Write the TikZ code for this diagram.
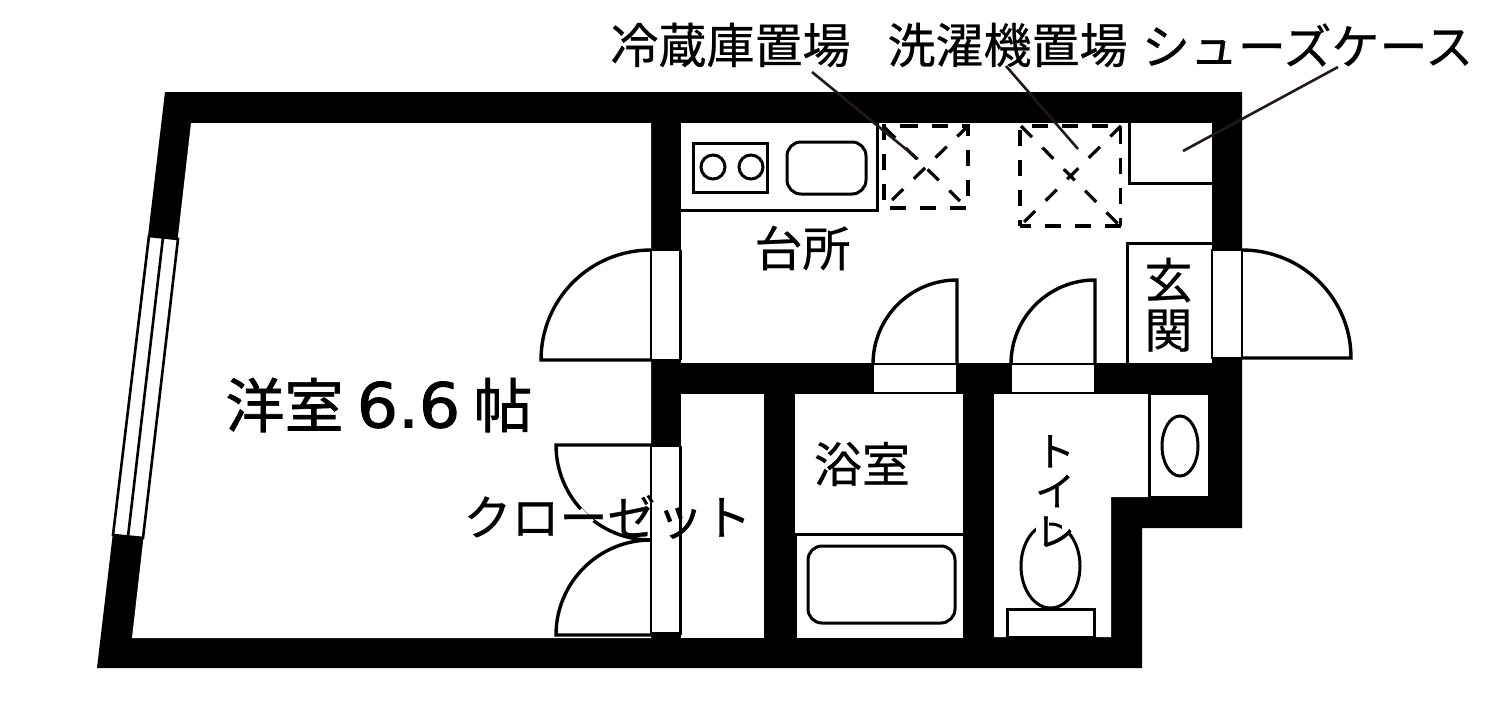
\documentclass[tikz,border=0pt]{standalone}
\usepackage{fontspec}
\newfontfamily\jp[FakeBold=0.5]{Noto Sans CJK JP}
\newfontfamily\jpb[FakeBold=1.2]{Noto Sans CJK JP}
\newfontfamily\lat[FakeBold=1.5,FakeStretch=1.05]{DejaVu Sans}
\definecolor{leadercol}{HTML}{231815}
\tikzset{
  fix/.style={draw=black,line width=1.5pt,fill=white},
  thin/.style={draw=black,line width=1pt,fill=white},
  thinline/.style={draw=black,line width=1.5pt},
  swing/.style={draw=black,line width=1.7pt,line join=miter},
  dashbox/.style={draw=black,line width=1.6pt,dash pattern=on 7.8pt off 7.2pt},
  dashdiag/.style={draw=black,line width=1.6pt,dash pattern=on 7.8pt off 7.4pt},
  leader/.style={draw=leadercol,line width=1.3pt},
  lab/.style={inner sep=0pt,text=black,font=\jp\fontsize{24pt}{24pt}\selectfont},
}
\begin{document}
\begin{tikzpicture}[x=0.5pt,y=-0.5pt]
\useasboundingbox (0,0) rectangle (1500,712);
\fill[white] (0,0) rectangle (1500,712);
% walls
\fill[black] (165,92) -- (1242,92) -- (1242,528) -- (1142,528) -- (1142,668) -- (97,668) -- cycle;
% rooms
\fill[white] (191,123) -- (651,123) -- (651,638) -- (132,638) -- cycle;
\fill[white] (681,123) rectangle (1212,363);
\fill[white] (681,394) rectangle (764,638);
\fill[white] (795,394) rectangle (963,638);
\fill[white] (994,394) -- (1149,394) -- (1149,497) -- (1111,497) -- (1111,637) -- (994,637) -- cycle;
\fill[white] (1151,395) rectangle (1208,496);
% window
\path[fix,line width=1.3pt] (149,236) -- (178,239) -- (143,538) -- (113,535) -- cycle;
\draw[thinline,line width=1.3pt] (163,237.5) -- (128,536.5);
% door openings
\path[thin] (651,250) rectangle (680,360);
\path[thin] (1212,250) rectangle (1242,358);
\path[thin] (873,364) rectangle (957,393);
\path[thin] (1011,364) rectangle (1095,393);
\path[thin] (651,446) rectangle (680,633);
\draw[thinline] (680,250) -- (680,360);
\draw[thinline] (680,446) -- (680,635);
% door swings
\draw[swing] (651,250) .. controls (590,250) and (541,299) .. (541,360) -- (651,360);
\draw[swing] (957,364) -- (957,280) .. controls (910.6,280) and (873,317.6) .. (873,364);
\draw[swing] (1095,364) -- (1095,280) .. controls (1048.6,280) and (1011,317.6) .. (1011,364);
\draw[swing] (1242,250) .. controls (1302,250) and (1351,298) .. (1351,358) -- (1242,358);
\draw[swing] (651,445) -- (556,445) .. controls (556,497.5) and (598.5,540) .. (651,540);
\draw[swing] (651,540) .. controls (598.5,540) and (556,582.5) .. (556,635) -- (651,635);
\draw[white,line width=2.5pt] (580,510) -- (592,522);
% kitchen
\draw[thinline] (681,210) -- (877,210) -- (877,123);
\draw[thinline] (693,143) rectangle (767,192);
\draw[thinline] (713,167) circle[radius=12];
\draw[thinline] (751,167) circle[radius=12];
\draw[thinline,rounded corners=7pt] (787,142) rectangle (866,194);
% fridge place
\draw[dashbox] (902,126) -- (968,126) -- (968,208) -- (884,208) -- (884,126) -- (902,126);
\draw[dashdiag] (892,200) -- (968,126);
\draw[dashdiag] (884,127) -- (960,201);
% washer place
\draw[dashbox] (1032,126) -- (1121,126);
\draw[dashbox] (1120.5,128) -- (1120.5,226);
\draw[dashbox] (1121,226) -- (1020,226);
\draw[dashbox] (1020,130) -- (1020,226);
\draw[dashdiag] (1024,222) -- (1121,126);
\draw[dashdiag] (1021,126) -- (1120,226);
% shoe case, entrance
\draw[thinline] (1129,123) -- (1129,183) -- (1212,183);
\draw[thinline] (1127,363) -- (1127,243) -- (1212,243);
% bath
\draw[thinline] (795,534) -- (963,534);
\fill[black] (795,534) rectangle (797,638);
\draw[thinline,rounded corners=7pt] (808,546) rectangle (955,623);
% toilet
\draw[thinline] (1050.5,566) ellipse[x radius=29.5,y radius=42];
\fill[white] (1036,518) rectangle (1049,535);
\fill[white] (1062,518) rectangle (1068,535);
\path[fix] (1007,609) rectangle (1094,637);
% washbasin
\draw[thinline] (1149,394) -- (1149,497);
\draw[thinline] (1180,446) ellipse[x radius=18,y radius=30];
% labels
\node[lab,font=\jpb\fontsize{29.5pt}{30pt}\selectfont] (yoshitsu) at (379,405) {洋室 {\lat\fontsize{31pt}{30pt}\selectfont 6.6} 帖};
\node[lab] (reizoko) at (730.5,45) {冷蔵庫置場};
\node[lab] (sentaku) at (1007.5,45) {洗濯機置場};
\node[lab] (shoes) at (1307.5,45) {シューズケース};
\node[lab] (daidokoro) at (802.5,248) {台所};
\node[lab] (genkan) at (1168.5,310) {\begin{tabular}{@{}c@{}}玄\\[-1.5pt]関\end{tabular}};
\node[lab] (yokushitsu) at (862,464) {浴室};
\node[lab] (closet) at (607.5,517) {クローゼット};
\node[lab,font=\jp\fontsize{20pt}{20pt}\selectfont,align=center] (toire) at (1055,491) {ト\\イ\\レ};
% leaders
\coordinate (r1) at (812,72);
\coordinate (r2) at (918,159);
\coordinate (s1) at (1006,66);
\coordinate (s2) at (1078,149);
\coordinate (c1) at (1338,67);
\coordinate (c2) at (1183,151);
\draw[leader] (r1) -- (r2);
\draw[leader] (s1) -- (s2);
\draw[leader] (c1) -- (c2);
\end{tikzpicture}
\end{document}
